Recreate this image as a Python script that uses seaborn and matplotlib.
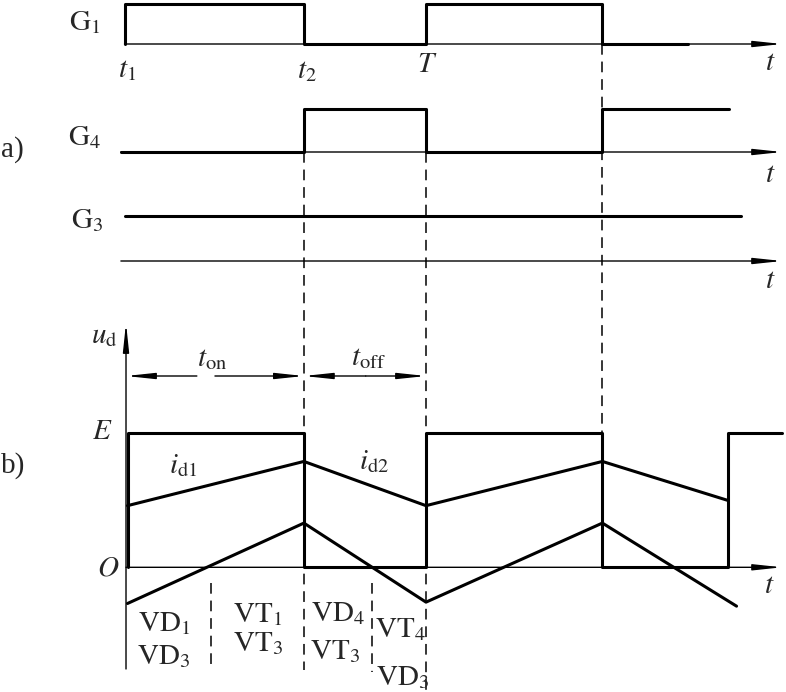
import matplotlib
matplotlib.use("Agg")
import matplotlib.pyplot as plt
import numpy as np
import pandas as pd
import seaborn as sns

sns.set_theme(style="white")
plt.rcParams["font.family"] = ["Liberation Serif", "DejaVu Serif"]
plt.rcParams["mathtext.fontset"] = "stix"

W, H = 786, 692
# time in units of the period T; pixel 124.5 -> t=0, 301.5 px per T
X0, SCALE = 124.5, 301.5
XLIM = ((0 - X0) / SCALE, (W - X0) / SCALE)

# switching instants (t1 = 0, T = 1)
T2, T_PER, T_NEXT, T_END = 0.595, 1.0, 1.585, 2.0
T_AXIS = 2.181  # where the time arrows end

# gate signals, 0 = low, 1 = high (steps-post)
g1_t = [0.0, 0.0, T2, T_PER, T_NEXT, 1.87]
g1_v = [0, 1, 0, 1, 0, 0]
g4_t = [-0.012, T2, T_PER, T_NEXT, 2.005]
g4_v = [0, 1, 0, 1, 1]
g3_t = [0.002, 2.045]
g3_v = [1, 1]

# output voltage in units of E
ud_t = [0.01, 0.01, T2, T_PER, T_NEXT, T_END, T_AXIS]
ud_v = [0, 1, 0, 1, 0, 1, 1]

# load currents (same scale as ud)
id1_t = [0.01, T2, T_PER, T_NEXT, T_END]
id1_v = [0.46, 0.79, 0.46, 0.79, 0.50]
id2_t = [0.01, T2, T_PER, T_NEXT, 2.03]
id2_v = [-0.27, 0.33, -0.26, 0.33, -0.29]

FS = 21
THICK = 2.2
THIN = 1.0
DASH = (0, (7, 4.5))


def t_of(px):
    return (px - X0) / SCALE


def row_axes(fig, p0, p1):
    """Full-figure axes where value 0 sits at pixel row p0 and value 1 at p1."""
    ax = fig.add_axes([0, 0, 1, 1])
    ax.set_xlim(XLIM)
    ax.set_ylim((H - p0) / (p1 - p0), (0 - p0) / (p1 - p0))
    ax.axis("off")
    ax.patch.set_alpha(0)
    return ax


def arrow(ax, x0, y0, x1, y1, style="-|>"):
    ax.annotate("", xy=(x1, y1), xytext=(x0, y0),
                arrowprops=dict(arrowstyle=style + ",head_length=0.85,head_width=0.09",
                                lw=THIN, color="black", mutation_scale=20,
                                shrinkA=0, shrinkB=0),
                annotation_clip=False)


def steps(ax, t, v, **kw):
    df = pd.DataFrame({"t": t, "v": v})
    sns.lineplot(data=df, x="t", y="v", ax=ax, estimator=None, sort=False,
                 drawstyle="steps-post", color="black", lw=THICK,
                 clip_on=False, **kw)


def line(ax, t, v):
    df = pd.DataFrame({"t": t, "v": v})
    sns.lineplot(data=df, x="t", y="v", ax=ax, estimator=None, sort=False,
                 color="black", lw=THICK, clip_on=False)


fig = plt.figure(figsize=(W / 100, H / 100), dpi=100)
fig.patch.set_facecolor("white")

# layout overlay in pixel rows for guides and labels
lay = fig.add_axes([0, 0, 1, 1])
lay.set_xlim(XLIM)
lay.set_ylim(H, 0)
lay.axis("off")
lay.patch.set_alpha(0)

# ---- G1 ----
ax_g1 = row_axes(fig, 44, 4)
arrow(ax_g1, 0.0, 0, T_AXIS, 0)
steps(ax_g1, g1_t, g1_v)

# ---- G4 ----
ax_g4 = row_axes(fig, 152, 109)
arrow(ax_g4, -0.012, 0, T_AXIS, 0)
steps(ax_g4, g4_t, g4_v)

# ---- G3 ----
ax_g3 = row_axes(fig, 261, 216)
arrow(ax_g3, -0.012, 0, T_AXIS, 0)
line(ax_g3, g3_t, g3_v)

# ---- ud / id ----
ax_ud = row_axes(fig, 567.3, 433.3)
arrow(ax_ud, 0.005, 0, T_AXIS, 0)
arrow(ax_ud, 0.005, (567.3 - 669) / 134, 0.005, (567.3 - 323) / 134)
steps(ax_ud, ud_t, ud_v)
line(ax_ud, id1_t, id1_v)
line(ax_ud, id2_t, id2_v)

# dimension arrows for t_on / t_off
arrow(lay, 0.24, 376, 0.005, 376)
arrow(lay, 0.30, 376, T2, 376)
arrow(lay, 0.80, 376, T2, 376)
arrow(lay, 0.80, 376, T_PER, 376)

# dashed guides
for x, y0, y1 in [(T2, 152, 670), (T_PER, 152, 692), (T_NEXT, 44, 433),
                  (t_of(211), 583, 670), (t_of(372), 583, 672)]:
    lay.plot([x, x], [y0, y1], color="black", lw=1.1, ls=DASH, clip_on=False)

# labels
labels = [
    (85, 23, r"$\mathrm{G}_1$"),
    (85, 138, r"$\mathrm{G}_4$"),
    (87, 221, r"$\mathrm{G}_3$"),
    (127, 70, r"$t_1$"),
    (307, 71, r"$t_2$"),
    (427, 65, r"$T$"),
    (770, 63, r"$t$"),
    (770, 175, r"$t$"),
    (770, 281, r"$t$"),
    (769, 586, r"$t$"),
    (104, 336, r"$u_\mathrm{d}$"),
    (102, 432, r"$E$"),
    (108, 569, r"$O$"),
    (183, 466, r"$i_\mathrm{d1}$"),
    (374, 462, r"$i_\mathrm{d2}$"),
    (212, 359, r"$t_\mathrm{on}$"),
    (368, 358, r"$t_\mathrm{off}$"),
    (164, 624, r"$\mathrm{VD}_1$"),
    (164, 657, r"$\mathrm{VD}_3$"),
    (258, 615, r"$\mathrm{VT}_1$"),
    (258, 644, r"$\mathrm{VT}_3$"),
    (338, 614, r"$\mathrm{VD}_4$"),
    (335, 652, r"$\mathrm{VT}_3$"),
    (400, 630, r"$\mathrm{VT}_4$"),
    (403, 678, r"$\mathrm{VD}_3$"),
]
for px, py, s in labels:
    lay.text(t_of(px), py, s, fontsize=FS, ha="center", va="center")

lay.text(t_of(1), 150, "a)", fontsize=FS, ha="left", va="center")
lay.text(t_of(1), 466, "b)", fontsize=FS, ha="left", va="center")

fig.savefig("out.png", dpi=100, facecolor="white")
